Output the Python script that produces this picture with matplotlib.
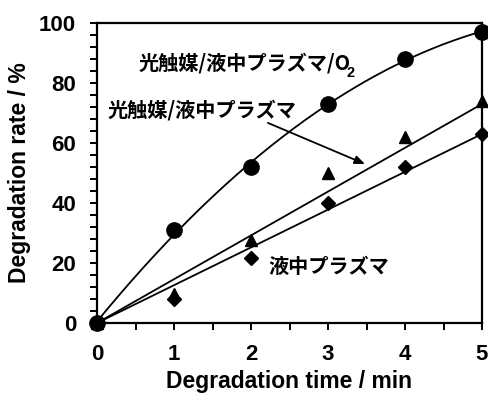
import numpy as np
import matplotlib
matplotlib.use("Agg")
import matplotlib.pyplot as plt
from matplotlib.ticker import MultipleLocator

# ---- data ----
time_min = [0, 1, 2, 3, 4, 5]
rate_photo_plasma_o2 = [0, 31, 52, 73, 88, 97]     # circles
rate_photo_plasma = [0, 9.8, 27.7, 50.1, 62.1, 74.1]  # triangles
rate_plasma = [0, 7.9, 21.6, 39.9, 52.1, 63.1]     # diamonds
slope_photo_plasma = 14.6   # linear trend through origin
slope_plasma = 12.6

label_o2 = "光触媒/液中プラズマ/O"
label_pp = "光触媒/液中プラズマ"
label_p = "液中プラズマ"

W, H = 489, 396
fig = plt.figure(figsize=(W / 100, H / 100), dpi=100)
ax = fig.add_axes([97 / W, 1 - 323 / H, 385 / W, 300 / H])

lat = "Liberation Sans"
jp = ["Noto Sans CJK JP", "DejaVu Sans"]

xs = np.linspace(0, 5, 200)
coef = np.polyfit(time_min, rate_photo_plasma_o2, 2)
ax.plot(xs, np.polyval(coef, xs), color="black", lw=1.3)
ax.plot(xs, slope_photo_plasma * xs, color="black", lw=1.3)
ax.plot(xs, slope_plasma * xs, color="black", lw=1.3)

ax.plot(time_min, rate_photo_plasma, "^", color="black", ms=9, clip_on=False, zorder=3)
ax.plot(time_min, rate_plasma, "D", color="black", ms=7, clip_on=False, zorder=4)
ax.plot(time_min, rate_photo_plasma_o2, "o", color="black", ms=11, clip_on=False, zorder=5)

ax.set_xlim(0, 5)
ax.set_ylim(0, 100)
ax.xaxis.set_major_locator(MultipleLocator(1))
ax.xaxis.set_minor_locator(MultipleLocator(0.5))
ax.yaxis.set_major_locator(MultipleLocator(20))
ax.yaxis.set_minor_locator(MultipleLocator(4))
ax.tick_params(which="both", direction="out", width=1.4, length=5, color="black")
ax.tick_params(which="major", pad=10)
for s in ax.spines.values():
    s.set_linewidth(1.6)

for lab in ax.get_xticklabels() + ax.get_yticklabels():
    lab.set_fontfamily(lat)
    lab.set_fontweight("bold")
    lab.set_fontsize(16)

ax.set_xlabel("Degradation time / min", fontfamily=lat, fontweight="bold",
              fontsize=16.5, labelpad=4)
ax.set_ylabel("Degradation rate / %", fontfamily=lat, fontweight="bold",
              fontsize=16.5, labelpad=6)

t1 = ax.text(0.545, 86.7, label_o2, family=jp, fontweight="bold", fontsize=14.5,
             va="center", ha="left")
ax.annotate("2", xy=(0.98, 0.02), xycoords=t1, family=lat, fontweight="bold",
            fontsize=10.5, va="center", ha="left")
ax.text(0.143, 71, label_pp, family=jp, fontweight="bold", fontsize=14.5,
        va="center", ha="left")
ax.text(2.22, 18.7, label_p, family=jp, fontweight="bold", fontsize=14.5,
        va="center", ha="left")

ax.annotate("", xy=(3.48, 53), xytext=(2.22, 66.7),
            arrowprops=dict(arrowstyle="-|>,head_length=0.6,head_width=0.25",
                            color="black", lw=1.3, shrinkA=0, shrinkB=0))

fig.savefig("out.png", dpi=100)
